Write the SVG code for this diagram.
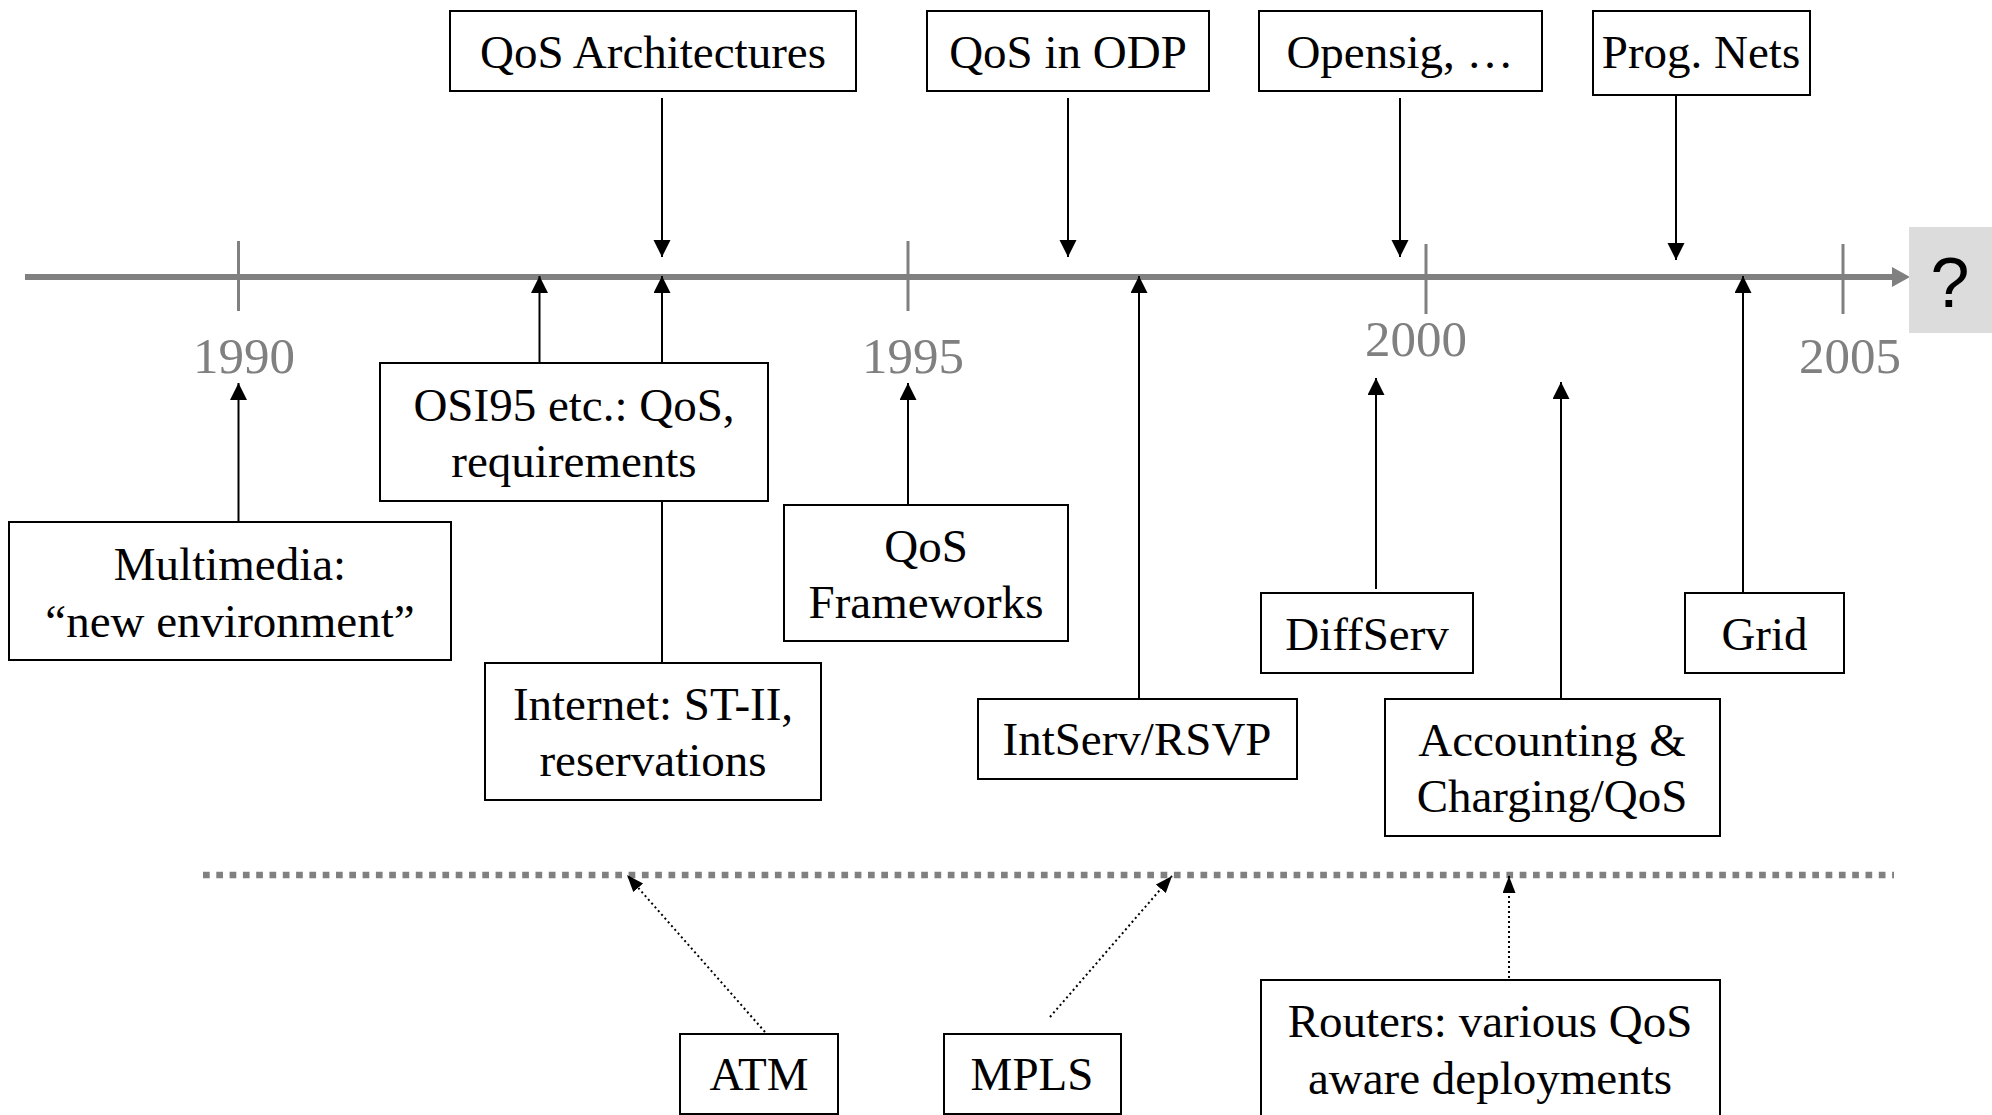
<svg xmlns="http://www.w3.org/2000/svg" width="1992" height="1115" viewBox="0 0 1992 1115">
<style>
.box{fill:#fff;stroke:#000;stroke-width:2}
.t{font-family:"Liberation Serif","Times New Roman",serif;font-size:47px;fill:#000;text-anchor:middle}
.yr{font-family:"Liberation Serif","Times New Roman",serif;font-size:51px;fill:#808080;text-anchor:middle}
.con{stroke:#000;stroke-width:2;fill:none}
.dot{stroke:#000;stroke-width:2;fill:none;stroke-dasharray:2 3}
.axis{stroke:#808080;stroke-width:6;fill:none}
.tick{stroke:#808080;stroke-width:3;fill:none}
</style>
<defs>
<marker id="ah" markerUnits="userSpaceOnUse" markerWidth="18" markerHeight="18" refX="17" refY="8.5" orient="auto" viewBox="0 0 18 18">
<path d="M0,0 L17,8.5 L0,17 z" fill="#000"/>
</marker>
<marker id="ahs" markerUnits="userSpaceOnUse" markerWidth="18" markerHeight="14" refX="17" refY="6.5" orient="auto" viewBox="0 0 18 14">
<path d="M0,0 L17,6.5 L0,13 z" fill="#000"/>
</marker>
</defs>
<rect width="1992" height="1115" fill="#fff"/>

<g id="timeline">
<line class="axis" x1="25" y1="277" x2="1895" y2="277"/>
<polygon points="1892,267 1910,277 1892,287" fill="#808080"/>
<line class="tick" x1="238.5" y1="241" x2="238.5" y2="311"/>
<line class="tick" x1="908" y1="241" x2="908" y2="311"/>
<line class="tick" x1="1426" y1="244" x2="1426" y2="314"/>
<line class="tick" x1="1843" y1="244" x2="1843" y2="314"/>
<text class="yr" x="244" y="373">1990</text>
<text class="yr" x="913" y="373">1995</text>
<text class="yr" x="1416" y="356">2000</text>
<text class="yr" x="1850" y="373">2005</text>
<line x1="203" y1="875" x2="1894" y2="875" stroke="#808080" stroke-width="6.5" stroke-dasharray="6.7 6.6"/>
</g>

<g id="future">
<rect x="1909" y="227" width="83" height="106" fill="#dcdcdc"/>
<text x="1950" y="307" font-family="Liberation Sans, Arial, sans-serif" font-size="70" text-anchor="middle" fill="#000">?</text>
</g>

<g id="connectors">
<line class="con" x1="662" y1="98" x2="662" y2="257" marker-end="url(#ah)"/>
<line class="con" x1="1068" y1="98" x2="1068" y2="257" marker-end="url(#ah)"/>
<line class="con" x1="1400" y1="98" x2="1400" y2="257" marker-end="url(#ah)"/>
<line class="con" x1="1676" y1="95" x2="1676" y2="260" marker-end="url(#ah)"/>
<line class="con" x1="238.5" y1="522" x2="238.5" y2="383" marker-end="url(#ah)"/>
<line class="con" x1="539.5" y1="363" x2="539.5" y2="276" marker-end="url(#ah)"/>
<line class="con" x1="662" y1="363" x2="662" y2="276" marker-end="url(#ah)"/>
<line class="con" x1="662" y1="501" x2="662" y2="663"/>
<line class="con" x1="908" y1="505" x2="908" y2="383" marker-end="url(#ah)"/>
<line class="con" x1="1139" y1="699" x2="1139" y2="276" marker-end="url(#ah)"/>
<line class="con" x1="1376" y1="589" x2="1376" y2="378" marker-end="url(#ah)"/>
<line class="con" x1="1561" y1="699" x2="1561" y2="382" marker-end="url(#ah)"/>
<line class="con" x1="1743" y1="593" x2="1743" y2="276" marker-end="url(#ah)"/>
<line class="dot" x1="765" y1="1032" x2="627" y2="875" marker-end="url(#ahs)"/>
<line class="dot" x1="1050" y1="1017" x2="1172" y2="876" marker-end="url(#ahs)"/>
<line class="dot" x1="1509" y1="978" x2="1509" y2="876" marker-end="url(#ahs)"/>
</g>

<g id="qos-architectures">
<rect class="box" x="450" y="11" width="406" height="80"/>
<text class="t" x="653" y="68">QoS Architectures</text>
</g>
<g id="qos-in-odp">
<rect class="box" x="927" y="11" width="282" height="80"/>
<text class="t" x="1068" y="68">QoS in ODP</text>
</g>
<g id="opensig">
<rect class="box" x="1259" y="11" width="283" height="80"/>
<text class="t" x="1400" y="68">Opensig, …</text>
</g>
<g id="prog-nets">
<rect class="box" x="1593" y="11" width="217" height="84"/>
<text class="t" x="1701" y="68">Prog. Nets</text>
</g>
<g id="osi95">
<rect class="box" x="380" y="363" width="388" height="138"/>
<text class="t" x="574" y="421">OSI95 etc.: QoS,</text>
<text class="t" x="574" y="477">requirements</text>
</g>
<g id="multimedia">
<rect class="box" x="9" y="522" width="442" height="138"/>
<text class="t" x="230" y="580">Multimedia:</text>
<text class="t" x="230" y="637">“new environment”</text>
</g>
<g id="internet">
<rect class="box" x="485" y="663" width="336" height="137"/>
<text class="t" x="653" y="720">Internet: ST-II,</text>
<text class="t" x="653" y="776">reservations</text>
</g>
<g id="qos-frameworks">
<rect class="box" x="784" y="505" width="284" height="136"/>
<text class="t" x="926" y="562">QoS</text>
<text class="t" x="926" y="618">Frameworks</text>
</g>
<g id="intserv">
<rect class="box" x="978" y="699" width="319" height="80"/>
<text class="t" x="1137" y="755">IntServ/RSVP</text>
</g>
<g id="diffserv">
<rect class="box" x="1261" y="593" width="212" height="80"/>
<text class="t" x="1367" y="650">DiffServ</text>
</g>
<g id="grid">
<rect class="box" x="1685" y="593" width="159" height="80"/>
<text class="t" x="1764.5" y="650">Grid</text>
</g>
<g id="accounting">
<rect class="box" x="1385" y="699" width="335" height="137"/>
<text class="t" x="1552" y="756">Accounting &amp;</text>
<text class="t" x="1552" y="812">Charging/QoS</text>
</g>
<g id="atm">
<rect class="box" x="680" y="1034" width="158" height="80"/>
<text class="t" x="759" y="1090">ATM</text>
</g>
<g id="mpls">
<rect class="box" x="944" y="1034" width="177" height="80"/>
<text class="t" x="1032" y="1090">MPLS</text>
</g>
<g id="routers">
<rect class="box" x="1261" y="980" width="459" height="150"/>
<text class="t" x="1490" y="1037">Routers: various QoS</text>
<text class="t" x="1490" y="1094">aware deployments</text>
</g>
</svg>
